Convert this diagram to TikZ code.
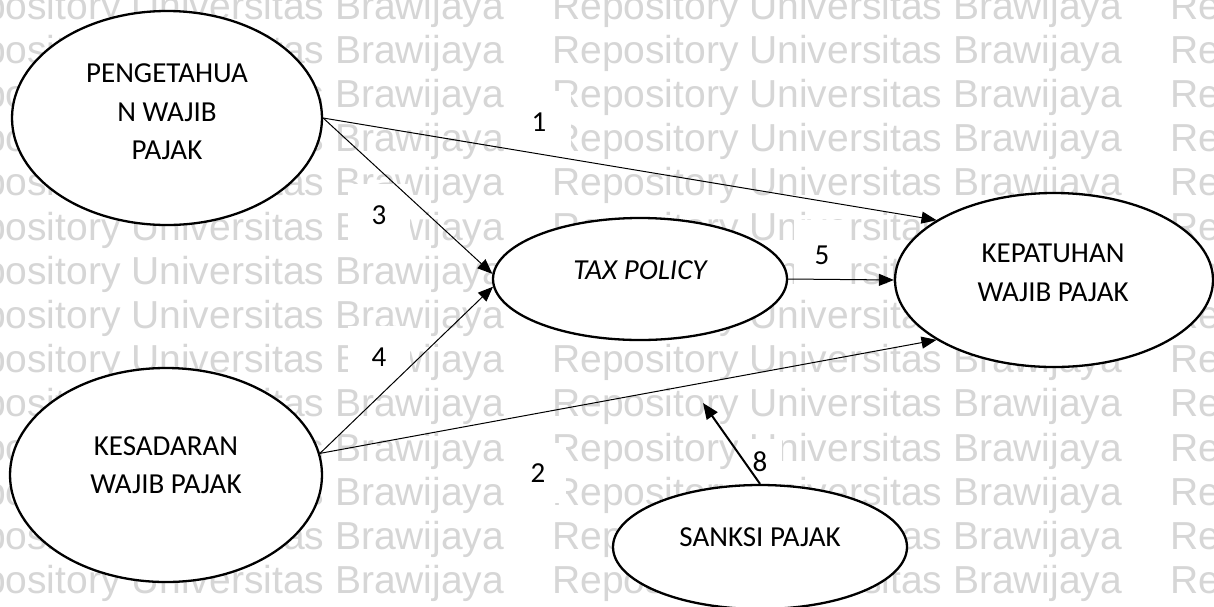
\documentclass[tikz,border=0pt]{standalone}
\usepackage{fontspec}
\setmainfont{Carlito}
\newfontfamily\wmfont{Liberation Sans}
\usetikzlibrary{arrows.meta,shapes.geometric}

\tikzset{
  bubble/.style={ellipse, draw, line width=2.3pt, fill=white, inner sep=0pt},
  caption/.style={align=center, inner sep=0pt, font=\fontsize{29}{38.5}\selectfont},
  numtag/.style={fill=white, inner sep=0pt, font=\fontsize{29}{34}\selectfont},
  link/.style={line width=1pt, -{Triangle[length=15pt,width=12pt]}},
  boldlink/.style={line width=2pt, -{Triangle[length=16pt,width=13pt]}},
  wmtext/.style={anchor=base west, inner sep=0pt, text=black!16,
    font=\wmfont\fontsize{39}{39}\selectfont}
}

\begin{document}
\begin{tikzpicture}[x=1pt,y=-1pt]
\useasboundingbox (0,0) rectangle (1214,606);
\fill[white] (0,0) rectangle (1214,606);

\begin{scope}
\clip (0,0) rectangle (1214,606);
% repeated background lettering
\foreach \r in {0,...,13}
  \foreach \c in {-1,0,1}
    \node[wmtext] (wm-\r-\c) at ({552+618*\c},{19+44.2*\r}) {Repository Universitas Brawijaya};

% path numbers on white patches
\node[numtag, minimum width=64, minimum height=62] (n1) at (539,122) {1};
\node[numtag, minimum width=62, minimum height=62] (n3) at (379,215) {3};
\node[numtag, minimum width=62, minimum height=62] (n4) at (379,357) {4};
\node[numtag, minimum width=56, minimum height=70] (n5) at (822,255) {5};
\node[numtag, minimum width=56, minimum height=60] (n2) at (538,473) {2};
\node[numtag, minimum width=44, minimum height=46] (n8) at (760,462) {8};

% constructs
\node[bubble, minimum width=310, minimum height=214] (P)  at (167,118) {};
\node[bubble, minimum width=312, minimum height=214] (K)  at (166,475) {};
\node[bubble, minimum width=294, minimum height=122] (T)  at (640,279) {};
\node[bubble, minimum width=318, minimum height=174] (KP) at (1054,280) {};
\node[bubble, minimum width=294, minimum height=124] (S)  at (760,547) {};

\node[caption] (Ptxt)  at (167,112) {PENGETAHUA\\N WAJIB\\PAJAK};
\node[caption] (Ktxt)  at (166,465) {KESADARAN\\WAJIB PAJAK};
\node[caption, font=\fontsize{29}{38.5}\selectfont\itshape] (Ttxt) at (640,270) {TAX POLICY};
\node[caption] (KPtxt) at (1053,273) {KEPATUHAN\\WAJIB PAJAK};
\node[caption] (Stxt)  at (760,537) {SANKSI PAJAK};

% relations
\draw[link] (P.east) -- (KP.153);
\draw[link] (P.east) -- (T.178);
\draw[link] (K.8) -- (T.183);
\draw[link] (K.8) -- (KP.207);
\draw[link] (T.east) -- (KP.west);
\coordinate (m8) at (703,403);
\draw[boldlink] (S.north) -- (m8);
\end{scope}
\end{tikzpicture}
\end{document}
